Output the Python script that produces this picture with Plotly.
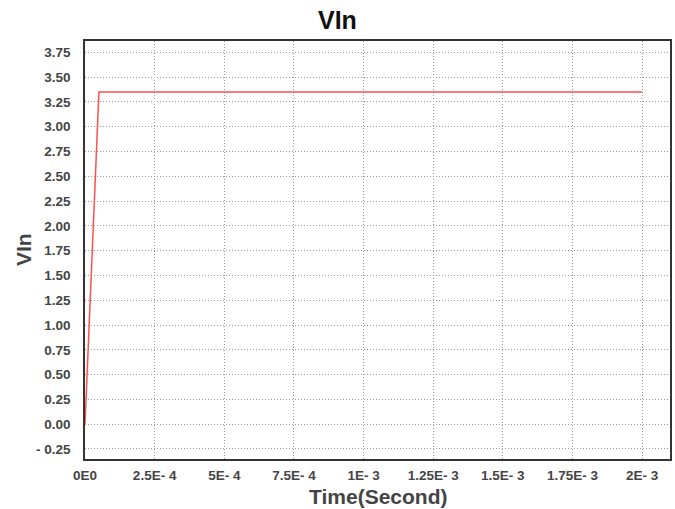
import plotly.graph_objects as go

time_s = [0.0, 5.0e-5, 2.0e-3]
vin = [0.0, 3.35, 3.35]

x_tickvals = [0, 2.5e-4, 5e-4, 7.5e-4, 1e-3, 1.25e-3, 1.5e-3, 1.75e-3, 2e-3]
x_ticktext = ["0E0", "2.5E- 4", "5E- 4", "7.5E- 4", "1E- 3", "1.25E- 3", "1.5E- 3", "1.75E- 3", "2E- 3"]
y_tickvals = [-0.25, 0, 0.25, 0.5, 0.75, 1.0, 1.25, 1.5, 1.75, 2.0, 2.25, 2.5, 2.75, 3.0, 3.25, 3.5, 3.75]
y_ticktext = ["- 0.25"] + ["%.2f" % v for v in y_tickvals[1:]]

FONT = "Liberation Sans, Arial, sans-serif"
W, H = 675, 509
L, R, T, B = 85, 5, 41, 50

fig = go.Figure()
fig.add_trace(go.Scatter(x=time_s, y=vin, mode="lines",
                         line=dict(color="#ff5050", width=1.5), showlegend=False))

axis_common = dict(
    tickfont=dict(family=FONT, size=13.5, color="#444444", weight="bold"),
    showgrid=True, gridcolor="#999999", griddash="1px,2px", gridwidth=1,
    showline=True, linecolor="#333333", linewidth=1.5, mirror=True,
    ticks="", zeroline=False, automargin=False,
)

fig.update_layout(
    width=W, height=H,
    margin=dict(l=L, r=R, t=T, b=B),
    paper_bgcolor="white", plot_bgcolor="white",
    font=dict(family=FONT, color="#444444"),
    xaxis=dict(range=[0, 2.1e-3], tickvals=x_tickvals, ticktext=x_ticktext,
               ticklabelstandoff=3, **axis_common),
    yaxis=dict(range=[-0.351, 3.864], tickvals=y_tickvals, ticktext=y_ticktext,
               ticklabelstandoff=10, **axis_common),
    annotations=[
        dict(text="<b>VIn</b>", xref="paper", yref="paper",
             x=(W / 2 - L) / (W - L - R), y=1 + (T - 20) / (H - T - B),
             xanchor="center", yanchor="middle", showarrow=False,
             font=dict(family=FONT, size=25, color="#111111")),
        dict(text="<b>VIn</b>", xref="paper", yref="paper",
             x=-(L - 23) / (W - L - R), y=0.5, textangle=-90,
             xanchor="center", yanchor="middle", showarrow=False,
             font=dict(family=FONT, size=21, color="#444444")),
        dict(text="<b>Time(Second)</b>", xref="paper", yref="paper",
             x=0.5, y=-(496 - (H - B)) / (H - T - B),
             xanchor="center", yanchor="middle", showarrow=False,
             font=dict(family=FONT, size=21, color="#444444")),
    ],
)

fig.write_html("out.html", config={"displayModeBar": False},
               post_script="document.body.style.margin='0';document.body.style.overflow='hidden';")
